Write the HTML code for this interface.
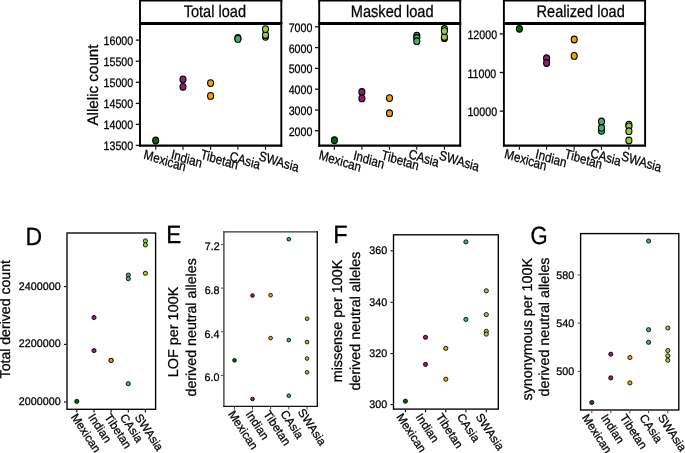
<!DOCTYPE html>
<html><head><meta charset="utf-8"><style>
html,body{margin:0;padding:0;background:#fff;}
svg{display:block;font-family:"Liberation Sans", sans-serif;will-change:transform;}
text{text-rendering:geometricPrecision;}
</style></head><body>
<svg width="685" height="453" viewBox="0 0 685 453">
<rect width="685" height="453" fill="#fff"/>
<rect x="140.0" y="0.4" width="141.30" height="23.00" fill="#fff" stroke="none"/>
<line x1="139.00" y1="0.40" x2="282.30" y2="0.40" stroke="#000" stroke-width="2.2"/>
<line x1="139.00" y1="23.40" x2="282.30" y2="23.40" stroke="#000" stroke-width="3.0"/>
<line x1="139.00" y1="145.60" x2="282.30" y2="145.60" stroke="#000" stroke-width="2.2"/>
<line x1="140.00" y1="-0.60" x2="140.00" y2="146.60" stroke="#000" stroke-width="1.9"/>
<line x1="281.30" y1="-0.60" x2="281.30" y2="146.60" stroke="#000" stroke-width="1.9"/>
<text transform="translate(183.67,16.95) scale(0.8684,1)" font-size="16.8" text-anchor="start" fill="#000" stroke="#000" stroke-width="0.26">Total load</text>
<line x1="135.80" y1="40.10" x2="139.10" y2="40.10" stroke="#111" stroke-width="1.3"/>
<text transform="translate(103.53,45.10) scale(0.8750,1)" font-size="12.2" text-anchor="start" fill="#000" stroke="#000" stroke-width="0.26">16000</text>
<line x1="135.80" y1="61.20" x2="139.10" y2="61.20" stroke="#111" stroke-width="1.3"/>
<text transform="translate(103.53,66.20) scale(0.8750,1)" font-size="12.2" text-anchor="start" fill="#000" stroke="#000" stroke-width="0.26">15500</text>
<line x1="135.80" y1="82.30" x2="139.10" y2="82.30" stroke="#111" stroke-width="1.3"/>
<text transform="translate(103.53,87.30) scale(0.8750,1)" font-size="12.2" text-anchor="start" fill="#000" stroke="#000" stroke-width="0.26">15000</text>
<line x1="135.80" y1="103.40" x2="139.10" y2="103.40" stroke="#111" stroke-width="1.3"/>
<text transform="translate(103.53,108.40) scale(0.8750,1)" font-size="12.2" text-anchor="start" fill="#000" stroke="#000" stroke-width="0.26">14500</text>
<line x1="135.80" y1="124.40" x2="139.10" y2="124.40" stroke="#111" stroke-width="1.3"/>
<text transform="translate(103.53,129.40) scale(0.8750,1)" font-size="12.2" text-anchor="start" fill="#000" stroke="#000" stroke-width="0.26">14000</text>
<line x1="135.80" y1="145.40" x2="139.10" y2="145.40" stroke="#111" stroke-width="1.3"/>
<text transform="translate(103.53,150.40) scale(0.8750,1)" font-size="12.2" text-anchor="start" fill="#000" stroke="#000" stroke-width="0.26">13500</text>
<line x1="155.70" y1="146.60" x2="155.70" y2="149.80" stroke="#111" stroke-width="1.15"/>
<line x1="183.00" y1="146.60" x2="183.00" y2="149.80" stroke="#111" stroke-width="1.15"/>
<line x1="210.60" y1="146.60" x2="210.60" y2="149.80" stroke="#111" stroke-width="1.15"/>
<line x1="237.90" y1="146.60" x2="237.90" y2="149.80" stroke="#111" stroke-width="1.15"/>
<line x1="265.50" y1="146.60" x2="265.50" y2="149.80" stroke="#111" stroke-width="1.15"/>
<ellipse cx="155.70" cy="140.50" rx="3.0" ry="3.35" fill="#006400" stroke="#000" stroke-width="1.1"/>
<ellipse cx="183.00" cy="79.40" rx="3.0" ry="3.35" fill="#8E1F6E" stroke="#000" stroke-width="1.1"/>
<ellipse cx="183.00" cy="86.80" rx="3.0" ry="3.35" fill="#8E1F6E" stroke="#000" stroke-width="1.1"/>
<ellipse cx="210.60" cy="83.10" rx="3.0" ry="3.35" fill="#F2A000" stroke="#000" stroke-width="1.1"/>
<ellipse cx="210.60" cy="95.90" rx="3.0" ry="3.35" fill="#F2A000" stroke="#000" stroke-width="1.1"/>
<ellipse cx="237.90" cy="37.90" rx="3.0" ry="3.35" fill="#3CB371" stroke="#000" stroke-width="1.1"/>
<ellipse cx="237.90" cy="38.90" rx="3.0" ry="3.35" fill="#3CB371" stroke="#000" stroke-width="1.1"/>
<ellipse cx="265.50" cy="36.80" rx="3.0" ry="3.35" fill="#9ACD32" stroke="#000" stroke-width="1.1"/>
<ellipse cx="265.50" cy="35.00" rx="3.0" ry="3.35" fill="#9ACD32" stroke="#000" stroke-width="1.1"/>
<ellipse cx="265.50" cy="29.10" rx="3.0" ry="3.35" fill="#9ACD32" stroke="#000" stroke-width="1.1"/>
<text transform="translate(143.10,158.60) scale(0.853,1) rotate(14.75) scale(1.0,1)" font-size="13.6" text-anchor="start" fill="#000" stroke="#000" stroke-width="0.26">Mexican</text>
<text transform="translate(170.45,158.50) scale(0.853,1) rotate(14.75) scale(1.0,1)" font-size="13.6" text-anchor="start" fill="#000" stroke="#000" stroke-width="0.26">Indian</text>
<text transform="translate(199.90,158.30) scale(0.853,1) rotate(14.75) scale(1.0,1)" font-size="13.6" text-anchor="start" fill="#000" stroke="#000" stroke-width="0.26">Tibetan</text>
<text transform="translate(229.00,160.30) scale(0.853,1) rotate(14.75) scale(1.0,1)" font-size="13.6" text-anchor="start" fill="#000" stroke="#000" stroke-width="0.26">CAsia</text>
<text transform="translate(258.20,160.00) scale(0.853,1) rotate(14.75) scale(1.0,1)" font-size="13.6" text-anchor="start" fill="#000" stroke="#000" stroke-width="0.26">SWAsia</text>
<rect x="319.2" y="0.4" width="141.00" height="23.00" fill="#fff" stroke="none"/>
<line x1="318.20" y1="0.40" x2="461.20" y2="0.40" stroke="#000" stroke-width="2.2"/>
<line x1="318.20" y1="23.40" x2="461.20" y2="23.40" stroke="#000" stroke-width="3.0"/>
<line x1="318.20" y1="145.60" x2="461.20" y2="145.60" stroke="#000" stroke-width="2.2"/>
<line x1="319.20" y1="-0.60" x2="319.20" y2="146.60" stroke="#000" stroke-width="1.9"/>
<line x1="460.20" y1="-0.60" x2="460.20" y2="146.60" stroke="#000" stroke-width="1.9"/>
<text transform="translate(350.80,16.95) scale(0.8697,1)" font-size="16.8" text-anchor="start" fill="#000" stroke="#000" stroke-width="0.26">Masked load</text>
<line x1="315.00" y1="26.80" x2="318.30" y2="26.80" stroke="#111" stroke-width="1.3"/>
<text transform="translate(288.67,31.80) scale(0.8750,1)" font-size="12.2" text-anchor="start" fill="#000" stroke="#000" stroke-width="0.26">7000</text>
<line x1="315.00" y1="47.60" x2="318.30" y2="47.60" stroke="#111" stroke-width="1.3"/>
<text transform="translate(288.67,52.60) scale(0.8750,1)" font-size="12.2" text-anchor="start" fill="#000" stroke="#000" stroke-width="0.26">6000</text>
<line x1="315.00" y1="68.40" x2="318.30" y2="68.40" stroke="#111" stroke-width="1.3"/>
<text transform="translate(288.67,73.40) scale(0.8750,1)" font-size="12.2" text-anchor="start" fill="#000" stroke="#000" stroke-width="0.26">5000</text>
<line x1="315.00" y1="89.20" x2="318.30" y2="89.20" stroke="#111" stroke-width="1.3"/>
<text transform="translate(288.67,94.20) scale(0.8750,1)" font-size="12.2" text-anchor="start" fill="#000" stroke="#000" stroke-width="0.26">4000</text>
<line x1="315.00" y1="110.00" x2="318.30" y2="110.00" stroke="#111" stroke-width="1.3"/>
<text transform="translate(288.67,115.00) scale(0.8750,1)" font-size="12.2" text-anchor="start" fill="#000" stroke="#000" stroke-width="0.26">3000</text>
<line x1="315.00" y1="130.70" x2="318.30" y2="130.70" stroke="#111" stroke-width="1.3"/>
<text transform="translate(288.67,135.70) scale(0.8750,1)" font-size="12.2" text-anchor="start" fill="#000" stroke="#000" stroke-width="0.26">2000</text>
<line x1="334.40" y1="146.60" x2="334.40" y2="149.80" stroke="#111" stroke-width="1.15"/>
<line x1="361.90" y1="146.60" x2="361.90" y2="149.80" stroke="#111" stroke-width="1.15"/>
<line x1="389.50" y1="146.60" x2="389.50" y2="149.80" stroke="#111" stroke-width="1.15"/>
<line x1="416.80" y1="146.60" x2="416.80" y2="149.80" stroke="#111" stroke-width="1.15"/>
<line x1="444.40" y1="146.60" x2="444.40" y2="149.80" stroke="#111" stroke-width="1.15"/>
<ellipse cx="334.40" cy="140.20" rx="3.0" ry="3.35" fill="#006400" stroke="#000" stroke-width="1.1"/>
<ellipse cx="361.90" cy="92.00" rx="3.0" ry="3.35" fill="#8E1F6E" stroke="#000" stroke-width="1.1"/>
<ellipse cx="361.90" cy="98.40" rx="3.0" ry="3.35" fill="#8E1F6E" stroke="#000" stroke-width="1.1"/>
<ellipse cx="389.50" cy="98.10" rx="3.0" ry="3.35" fill="#F2A000" stroke="#000" stroke-width="1.1"/>
<ellipse cx="389.50" cy="113.20" rx="3.0" ry="3.35" fill="#F2A000" stroke="#000" stroke-width="1.1"/>
<ellipse cx="416.80" cy="35.70" rx="3.0" ry="3.35" fill="#3CB371" stroke="#000" stroke-width="1.1"/>
<ellipse cx="416.80" cy="38.00" rx="3.0" ry="3.35" fill="#3CB371" stroke="#000" stroke-width="1.1"/>
<ellipse cx="416.80" cy="41.20" rx="3.0" ry="3.35" fill="#3CB371" stroke="#000" stroke-width="1.1"/>
<ellipse cx="444.40" cy="38.20" rx="3.0" ry="3.35" fill="#9ACD32" stroke="#000" stroke-width="1.1"/>
<ellipse cx="444.40" cy="29.00" rx="3.0" ry="3.35" fill="#9ACD32" stroke="#000" stroke-width="1.1"/>
<ellipse cx="444.40" cy="37.00" rx="3.0" ry="3.35" fill="#9ACD32" stroke="#000" stroke-width="1.1"/>
<ellipse cx="444.40" cy="31.10" rx="3.0" ry="3.35" fill="#9ACD32" stroke="#000" stroke-width="1.1"/>
<text transform="translate(318.20,159.00) scale(0.853,1) rotate(14.75) scale(1.0,1)" font-size="13.6" text-anchor="start" fill="#000" stroke="#000" stroke-width="0.26">Mexican</text>
<text transform="translate(352.65,159.40) scale(0.853,1) rotate(14.75) scale(1.0,1)" font-size="13.6" text-anchor="start" fill="#000" stroke="#000" stroke-width="0.26">Indian</text>
<text transform="translate(380.80,159.00) scale(0.853,1) rotate(14.75) scale(1.0,1)" font-size="13.6" text-anchor="start" fill="#000" stroke="#000" stroke-width="0.26">Tibetan</text>
<text transform="translate(407.90,157.90) scale(0.853,1) rotate(14.75) scale(1.0,1)" font-size="13.6" text-anchor="start" fill="#000" stroke="#000" stroke-width="0.26">CAsia</text>
<text transform="translate(438.60,159.30) scale(0.853,1) rotate(14.75) scale(1.0,1)" font-size="13.6" text-anchor="start" fill="#000" stroke="#000" stroke-width="0.26">SWAsia</text>
<rect x="503.9" y="0.4" width="141.20" height="23.00" fill="#fff" stroke="none"/>
<line x1="502.90" y1="0.40" x2="646.10" y2="0.40" stroke="#000" stroke-width="2.2"/>
<line x1="502.90" y1="23.40" x2="646.10" y2="23.40" stroke="#000" stroke-width="3.0"/>
<line x1="502.90" y1="145.60" x2="646.10" y2="145.60" stroke="#000" stroke-width="2.2"/>
<line x1="503.90" y1="-0.60" x2="503.90" y2="146.60" stroke="#000" stroke-width="1.9"/>
<line x1="645.10" y1="-0.60" x2="645.10" y2="146.60" stroke="#000" stroke-width="1.9"/>
<text transform="translate(536.61,16.95) scale(0.8667,1)" font-size="16.8" text-anchor="start" fill="#000" stroke="#000" stroke-width="0.26">Realized load</text>
<line x1="499.70" y1="33.90" x2="503.00" y2="33.90" stroke="#111" stroke-width="1.3"/>
<text transform="translate(467.43,38.90) scale(0.8750,1)" font-size="12.2" text-anchor="start" fill="#000" stroke="#000" stroke-width="0.26">12000</text>
<line x1="499.70" y1="72.50" x2="503.00" y2="72.50" stroke="#111" stroke-width="1.3"/>
<text transform="translate(467.43,77.50) scale(0.8750,1)" font-size="12.2" text-anchor="start" fill="#000" stroke="#000" stroke-width="0.26">11000</text>
<line x1="499.70" y1="111.10" x2="503.00" y2="111.10" stroke="#111" stroke-width="1.3"/>
<text transform="translate(467.43,116.10) scale(0.8750,1)" font-size="12.2" text-anchor="start" fill="#000" stroke="#000" stroke-width="0.26">10000</text>
<line x1="519.40" y1="146.60" x2="519.40" y2="149.80" stroke="#111" stroke-width="1.15"/>
<line x1="546.60" y1="146.60" x2="546.60" y2="149.80" stroke="#111" stroke-width="1.15"/>
<line x1="574.20" y1="146.60" x2="574.20" y2="149.80" stroke="#111" stroke-width="1.15"/>
<line x1="601.50" y1="146.60" x2="601.50" y2="149.80" stroke="#111" stroke-width="1.15"/>
<line x1="628.90" y1="146.60" x2="628.90" y2="149.80" stroke="#111" stroke-width="1.15"/>
<ellipse cx="519.40" cy="28.80" rx="3.0" ry="3.35" fill="#006400" stroke="#000" stroke-width="1.1"/>
<ellipse cx="546.60" cy="58.20" rx="3.0" ry="3.35" fill="#8E1F6E" stroke="#000" stroke-width="1.1"/>
<ellipse cx="546.60" cy="63.00" rx="3.0" ry="3.35" fill="#8E1F6E" stroke="#000" stroke-width="1.1"/>
<ellipse cx="574.20" cy="39.50" rx="3.0" ry="3.35" fill="#F2A000" stroke="#000" stroke-width="1.1"/>
<ellipse cx="574.20" cy="55.90" rx="3.0" ry="3.35" fill="#F2A000" stroke="#000" stroke-width="1.1"/>
<ellipse cx="601.50" cy="130.80" rx="3.0" ry="3.35" fill="#3CB371" stroke="#000" stroke-width="1.1"/>
<ellipse cx="601.50" cy="127.70" rx="3.0" ry="3.35" fill="#3CB371" stroke="#000" stroke-width="1.1"/>
<ellipse cx="601.50" cy="121.50" rx="3.0" ry="3.35" fill="#3CB371" stroke="#000" stroke-width="1.1"/>
<ellipse cx="628.90" cy="124.60" rx="3.0" ry="3.35" fill="#9ACD32" stroke="#000" stroke-width="1.1"/>
<ellipse cx="628.90" cy="126.30" rx="3.0" ry="3.35" fill="#9ACD32" stroke="#000" stroke-width="1.1"/>
<ellipse cx="628.90" cy="131.20" rx="3.0" ry="3.35" fill="#9ACD32" stroke="#000" stroke-width="1.1"/>
<ellipse cx="628.90" cy="140.50" rx="3.0" ry="3.35" fill="#9ACD32" stroke="#000" stroke-width="1.1"/>
<text transform="translate(503.80,157.80) scale(0.853,1) rotate(14.75) scale(1.0,1)" font-size="13.6" text-anchor="start" fill="#000" stroke="#000" stroke-width="0.26">Mexican</text>
<text transform="translate(534.85,158.10) scale(0.853,1) rotate(14.75) scale(1.0,1)" font-size="13.6" text-anchor="start" fill="#000" stroke="#000" stroke-width="0.26">Indian</text>
<text transform="translate(564.00,157.80) scale(0.853,1) rotate(14.75) scale(1.0,1)" font-size="13.6" text-anchor="start" fill="#000" stroke="#000" stroke-width="0.26">Tibetan</text>
<text transform="translate(589.80,157.00) scale(0.853,1) rotate(14.75) scale(1.0,1)" font-size="13.6" text-anchor="start" fill="#000" stroke="#000" stroke-width="0.26">CAsia</text>
<text transform="translate(620.80,160.10) scale(0.853,1) rotate(14.75) scale(1.0,1)" font-size="13.6" text-anchor="start" fill="#000" stroke="#000" stroke-width="0.26">SWAsia</text>
<text transform="translate(97.70,125.53) rotate(-90) scale(1.0004,1)" font-size="15.2" text-anchor="start" fill="#000" stroke="#000" stroke-width="0.26">Allelic count</text>
<rect x="67.0" y="233.0" width="88.60" height="176.30" fill="none" stroke="#000" stroke-width="1.35"/>
<text transform="translate(25.42,245.20) scale(0.9185,1)" font-size="25" text-anchor="start" fill="#000" stroke="#000" stroke-width="0.26">D</text>
<line x1="64.00" y1="286.60" x2="66.40" y2="286.60" stroke="#000" stroke-width="1.1"/>
<text transform="translate(18.87,289.60) scale(0.9750,1)" font-size="11.0" text-anchor="start" fill="#000" stroke="#000" stroke-width="0.26">2400000</text>
<line x1="64.00" y1="344.40" x2="66.40" y2="344.40" stroke="#000" stroke-width="1.1"/>
<text transform="translate(18.87,347.40) scale(0.9750,1)" font-size="11.0" text-anchor="start" fill="#000" stroke="#000" stroke-width="0.26">2200000</text>
<line x1="64.00" y1="402.00" x2="66.40" y2="402.00" stroke="#000" stroke-width="1.1"/>
<text transform="translate(18.87,405.00) scale(0.9750,1)" font-size="11.0" text-anchor="start" fill="#000" stroke="#000" stroke-width="0.26">2000000</text>
<line x1="76.80" y1="409.90" x2="76.80" y2="412.50" stroke="#000" stroke-width="1.1"/>
<line x1="94.00" y1="409.90" x2="94.00" y2="412.50" stroke="#000" stroke-width="1.1"/>
<line x1="111.10" y1="409.90" x2="111.10" y2="412.50" stroke="#000" stroke-width="1.1"/>
<line x1="128.30" y1="409.90" x2="128.30" y2="412.50" stroke="#000" stroke-width="1.1"/>
<line x1="145.40" y1="409.90" x2="145.40" y2="412.50" stroke="#000" stroke-width="1.1"/>
<ellipse cx="76.80" cy="401.40" rx="2.1" ry="2.1" fill="#006400" stroke="#000" stroke-width="0.85"/>
<ellipse cx="94.00" cy="317.50" rx="2.1" ry="2.1" fill="#8E1F6E" stroke="#000" stroke-width="0.85"/>
<ellipse cx="94.00" cy="350.60" rx="2.1" ry="2.1" fill="#8E1F6E" stroke="#000" stroke-width="0.85"/>
<ellipse cx="111.10" cy="360.40" rx="2.1" ry="2.1" fill="#F2A000" stroke="#000" stroke-width="0.85"/>
<ellipse cx="111.10" cy="360.40" rx="2.1" ry="2.1" fill="#F2A000" stroke="#000" stroke-width="0.85"/>
<ellipse cx="128.30" cy="275.10" rx="2.1" ry="2.1" fill="#3CB371" stroke="#000" stroke-width="0.85"/>
<ellipse cx="128.30" cy="278.70" rx="2.1" ry="2.1" fill="#3CB371" stroke="#000" stroke-width="0.85"/>
<ellipse cx="128.30" cy="383.70" rx="2.1" ry="2.1" fill="#3CB371" stroke="#000" stroke-width="0.85"/>
<ellipse cx="145.40" cy="240.90" rx="2.1" ry="2.1" fill="#9ACD32" stroke="#000" stroke-width="0.85"/>
<ellipse cx="145.40" cy="244.90" rx="2.1" ry="2.1" fill="#9ACD32" stroke="#000" stroke-width="0.85"/>
<ellipse cx="145.40" cy="273.30" rx="2.1" ry="2.1" fill="#9ACD32" stroke="#000" stroke-width="0.85"/>
<text transform="translate(70.50,416.90) scale(1.0,1) rotate(56.5) scale(1.0,1)" font-size="11.8" text-anchor="start" fill="#000" stroke="#000" stroke-width="0.26">Mexican</text>
<text transform="translate(87.70,416.90) scale(1.0,1) rotate(56.5) scale(1.0,1)" font-size="11.8" text-anchor="start" fill="#000" stroke="#000" stroke-width="0.26">Indian</text>
<text transform="translate(104.00,416.90) scale(1.0,1) rotate(56.5) scale(1.0,1)" font-size="11.8" text-anchor="start" fill="#000" stroke="#000" stroke-width="0.26">Tibetan</text>
<text transform="translate(119.60,417.20) scale(1.0,1) rotate(56.5) scale(1.0,1)" font-size="11.8" text-anchor="start" fill="#000" stroke="#000" stroke-width="0.26">CAsia</text>
<text transform="translate(134.30,417.20) scale(1.0,1) rotate(56.5) scale(1.0,1)" font-size="11.8" text-anchor="start" fill="#000" stroke="#000" stroke-width="0.26">SWAsia</text>
<text transform="translate(9.90,378.42) rotate(-90) scale(0.9860,1)" font-size="14.3" text-anchor="start" fill="#000" stroke="#000" stroke-width="0.26">Total derived count</text>
<line x1="223.30" y1="231.90" x2="317.90" y2="231.90" stroke="#333" stroke-width="1.3"/>
<line x1="223.90" y1="231.30" x2="223.90" y2="406.90" stroke="#333" stroke-width="1.3"/>
<line x1="317.30" y1="231.30" x2="317.30" y2="406.90" stroke="#111" stroke-width="1.35"/>
<line x1="223.30" y1="406.30" x2="317.90" y2="406.30" stroke="#111" stroke-width="1.35"/>
<text transform="translate(166.25,242.70) scale(0.9004,1)" font-size="25" text-anchor="start" fill="#000" stroke="#000" stroke-width="0.26">E</text>
<line x1="220.90" y1="244.40" x2="223.30" y2="244.40" stroke="#333" stroke-width="0.9"/>
<text transform="translate(204.73,250.40) scale(0.9750,1)" font-size="11.0" text-anchor="start" fill="#000" stroke="#000" stroke-width="0.26">7.2</text>
<line x1="220.90" y1="288.10" x2="223.30" y2="288.10" stroke="#333" stroke-width="0.9"/>
<text transform="translate(204.66,294.10) scale(0.9750,1)" font-size="11.0" text-anchor="start" fill="#000" stroke="#000" stroke-width="0.26">6.8</text>
<line x1="220.90" y1="331.70" x2="223.30" y2="331.70" stroke="#333" stroke-width="0.9"/>
<text transform="translate(204.50,337.70) scale(0.9750,1)" font-size="11.0" text-anchor="start" fill="#000" stroke="#000" stroke-width="0.26">6.4</text>
<line x1="220.90" y1="375.40" x2="223.30" y2="375.40" stroke="#333" stroke-width="0.9"/>
<text transform="translate(204.61,381.40) scale(0.9750,1)" font-size="11.0" text-anchor="start" fill="#000" stroke="#000" stroke-width="0.26">6.0</text>
<line x1="234.50" y1="406.90" x2="234.50" y2="409.50" stroke="#333" stroke-width="0.9"/>
<line x1="252.50" y1="406.90" x2="252.50" y2="409.50" stroke="#333" stroke-width="0.9"/>
<line x1="270.60" y1="406.90" x2="270.60" y2="409.50" stroke="#333" stroke-width="0.9"/>
<line x1="288.80" y1="406.90" x2="288.80" y2="409.50" stroke="#333" stroke-width="0.9"/>
<line x1="307.10" y1="406.90" x2="307.10" y2="409.50" stroke="#333" stroke-width="0.9"/>
<ellipse cx="234.50" cy="360.30" rx="1.85" ry="1.85" fill="#006400" stroke="#000" stroke-width="0.85"/>
<ellipse cx="252.50" cy="295.50" rx="1.85" ry="1.85" fill="#8E1F6E" stroke="#000" stroke-width="0.85"/>
<ellipse cx="252.50" cy="399.00" rx="1.85" ry="1.85" fill="#8E1F6E" stroke="#000" stroke-width="0.85"/>
<ellipse cx="270.60" cy="295.20" rx="1.85" ry="1.85" fill="#F2A000" stroke="#000" stroke-width="0.85"/>
<ellipse cx="270.60" cy="338.10" rx="1.85" ry="1.85" fill="#F2A000" stroke="#000" stroke-width="0.85"/>
<ellipse cx="288.80" cy="239.20" rx="1.85" ry="1.85" fill="#3CB371" stroke="#000" stroke-width="0.85"/>
<ellipse cx="288.80" cy="340.10" rx="1.85" ry="1.85" fill="#3CB371" stroke="#000" stroke-width="0.85"/>
<ellipse cx="288.80" cy="395.70" rx="1.85" ry="1.85" fill="#3CB371" stroke="#000" stroke-width="0.85"/>
<ellipse cx="307.10" cy="318.70" rx="1.85" ry="1.85" fill="#9ACD32" stroke="#000" stroke-width="0.85"/>
<ellipse cx="307.10" cy="342.10" rx="1.85" ry="1.85" fill="#9ACD32" stroke="#000" stroke-width="0.85"/>
<ellipse cx="307.10" cy="358.50" rx="1.85" ry="1.85" fill="#9ACD32" stroke="#000" stroke-width="0.85"/>
<ellipse cx="307.10" cy="372.30" rx="1.85" ry="1.85" fill="#9ACD32" stroke="#000" stroke-width="0.85"/>
<text transform="translate(227.70,413.90) scale(1.0,1) rotate(56.5) scale(1.0,1)" font-size="11.8" text-anchor="start" fill="#000" stroke="#000" stroke-width="0.26">Mexican</text>
<text transform="translate(245.20,413.90) scale(1.0,1) rotate(56.5) scale(1.0,1)" font-size="11.8" text-anchor="start" fill="#000" stroke="#000" stroke-width="0.26">Indian</text>
<text transform="translate(263.10,413.90) scale(1.0,1) rotate(56.5) scale(1.0,1)" font-size="11.8" text-anchor="start" fill="#000" stroke="#000" stroke-width="0.26">Tibetan</text>
<text transform="translate(280.10,413.40) scale(1.0,1) rotate(56.5) scale(1.0,1)" font-size="11.8" text-anchor="start" fill="#000" stroke="#000" stroke-width="0.26">CAsia</text>
<text transform="translate(297.30,411.90) scale(1.0,1) rotate(56.5) scale(1.0,1)" font-size="11.8" text-anchor="start" fill="#000" stroke="#000" stroke-width="0.26">SWAsia</text>
<text transform="translate(177.90,377.18) rotate(-90) scale(1.0069,1)" font-size="14.3" text-anchor="start" fill="#000" stroke="#000" stroke-width="0.26">LOF per 100K</text>
<text transform="translate(195.60,396.50) rotate(-90) scale(0.9942,1)" font-size="14.3" text-anchor="start" fill="#000" stroke="#000" stroke-width="0.26">derived neutral alleles</text>
<rect x="393.5" y="234.8" width="104.80" height="174.30" fill="none" stroke="#000" stroke-width="1.35"/>
<text transform="translate(333.37,243.20) scale(0.9411,1)" font-size="25" text-anchor="start" fill="#000" stroke="#000" stroke-width="0.26">F</text>
<line x1="390.50" y1="250.80" x2="392.90" y2="250.80" stroke="#000" stroke-width="1.1"/>
<text transform="translate(369.22,254.30) scale(0.9750,1)" font-size="11.0" text-anchor="start" fill="#000" stroke="#000" stroke-width="0.26">360</text>
<line x1="390.50" y1="302.30" x2="392.90" y2="302.30" stroke="#000" stroke-width="1.1"/>
<text transform="translate(369.22,305.80) scale(0.9750,1)" font-size="11.0" text-anchor="start" fill="#000" stroke="#000" stroke-width="0.26">340</text>
<line x1="390.50" y1="353.60" x2="392.90" y2="353.60" stroke="#000" stroke-width="1.1"/>
<text transform="translate(369.22,357.10) scale(0.9750,1)" font-size="11.0" text-anchor="start" fill="#000" stroke="#000" stroke-width="0.26">320</text>
<line x1="390.50" y1="404.60" x2="392.90" y2="404.60" stroke="#000" stroke-width="1.1"/>
<text transform="translate(369.22,408.10) scale(0.9750,1)" font-size="11.0" text-anchor="start" fill="#000" stroke="#000" stroke-width="0.26">300</text>
<line x1="405.40" y1="409.70" x2="405.40" y2="412.30" stroke="#000" stroke-width="1.1"/>
<line x1="425.50" y1="409.70" x2="425.50" y2="412.30" stroke="#000" stroke-width="1.1"/>
<line x1="445.80" y1="409.70" x2="445.80" y2="412.30" stroke="#000" stroke-width="1.1"/>
<line x1="465.90" y1="409.70" x2="465.90" y2="412.30" stroke="#000" stroke-width="1.1"/>
<line x1="486.30" y1="409.70" x2="486.30" y2="412.30" stroke="#000" stroke-width="1.1"/>
<ellipse cx="405.40" cy="401.20" rx="2.1" ry="2.1" fill="#006400" stroke="#000" stroke-width="0.85"/>
<ellipse cx="425.50" cy="337.30" rx="2.1" ry="2.1" fill="#8E1F6E" stroke="#000" stroke-width="0.85"/>
<ellipse cx="425.50" cy="364.40" rx="2.1" ry="2.1" fill="#8E1F6E" stroke="#000" stroke-width="0.85"/>
<ellipse cx="445.80" cy="348.40" rx="2.1" ry="2.1" fill="#F2A000" stroke="#000" stroke-width="0.85"/>
<ellipse cx="445.80" cy="379.20" rx="2.1" ry="2.1" fill="#F2A000" stroke="#000" stroke-width="0.85"/>
<ellipse cx="465.90" cy="241.90" rx="2.1" ry="2.1" fill="#3CB371" stroke="#000" stroke-width="0.85"/>
<ellipse cx="465.90" cy="319.40" rx="2.1" ry="2.1" fill="#3CB371" stroke="#000" stroke-width="0.85"/>
<ellipse cx="486.30" cy="290.80" rx="2.1" ry="2.1" fill="#9ACD32" stroke="#000" stroke-width="0.85"/>
<ellipse cx="486.30" cy="314.60" rx="2.1" ry="2.1" fill="#9ACD32" stroke="#000" stroke-width="0.85"/>
<ellipse cx="486.30" cy="331.30" rx="2.1" ry="2.1" fill="#9ACD32" stroke="#000" stroke-width="0.85"/>
<ellipse cx="486.30" cy="334.10" rx="2.1" ry="2.1" fill="#9ACD32" stroke="#000" stroke-width="0.85"/>
<text transform="translate(395.90,416.70) scale(1.0,1) rotate(56.5) scale(1.0,1)" font-size="11.8" text-anchor="start" fill="#000" stroke="#000" stroke-width="0.26">Mexican</text>
<text transform="translate(415.20,416.70) scale(1.0,1) rotate(56.5) scale(1.0,1)" font-size="11.8" text-anchor="start" fill="#000" stroke="#000" stroke-width="0.26">Indian</text>
<text transform="translate(435.50,416.70) scale(1.0,1) rotate(56.5) scale(1.0,1)" font-size="11.8" text-anchor="start" fill="#000" stroke="#000" stroke-width="0.26">Tibetan</text>
<text transform="translate(456.40,416.70) scale(1.0,1) rotate(56.5) scale(1.0,1)" font-size="11.8" text-anchor="start" fill="#000" stroke="#000" stroke-width="0.26">CAsia</text>
<text transform="translate(475.20,416.70) scale(1.0,1) rotate(56.5) scale(1.0,1)" font-size="11.8" text-anchor="start" fill="#000" stroke="#000" stroke-width="0.26">SWAsia</text>
<text transform="translate(342.40,382.25) rotate(-90) scale(1.0008,1)" font-size="14.3" text-anchor="start" fill="#000" stroke="#000" stroke-width="0.26">missense per 100K</text>
<text transform="translate(360.40,390.60) rotate(-90) scale(0.9993,1)" font-size="14.3" text-anchor="start" fill="#000" stroke="#000" stroke-width="0.26">derived neutral alleles</text>
<rect x="580.6" y="233.6" width="98.20" height="176.40" fill="none" stroke="#000" stroke-width="1.35"/>
<text transform="translate(530.39,243.60) scale(0.8823,1)" font-size="25" text-anchor="start" fill="#000" stroke="#000" stroke-width="0.26">G</text>
<line x1="577.60" y1="274.90" x2="580.00" y2="274.90" stroke="#555" stroke-width="1.1"/>
<text transform="translate(556.32,278.60) scale(0.9750,1)" font-size="11.0" text-anchor="start" fill="#000" stroke="#000" stroke-width="0.26">580</text>
<line x1="577.60" y1="323.10" x2="580.00" y2="323.10" stroke="#555" stroke-width="1.1"/>
<text transform="translate(556.32,326.80) scale(0.9750,1)" font-size="11.0" text-anchor="start" fill="#000" stroke="#000" stroke-width="0.26">540</text>
<line x1="577.60" y1="371.40" x2="580.00" y2="371.40" stroke="#555" stroke-width="1.1"/>
<text transform="translate(556.32,375.10) scale(0.9750,1)" font-size="11.0" text-anchor="start" fill="#000" stroke="#000" stroke-width="0.26">500</text>
<line x1="591.80" y1="410.60" x2="591.80" y2="413.20" stroke="#555" stroke-width="1.1"/>
<line x1="610.80" y1="410.60" x2="610.80" y2="413.20" stroke="#555" stroke-width="1.1"/>
<line x1="629.90" y1="410.60" x2="629.90" y2="413.20" stroke="#555" stroke-width="1.1"/>
<line x1="648.60" y1="410.60" x2="648.60" y2="413.20" stroke="#555" stroke-width="1.1"/>
<line x1="667.80" y1="410.60" x2="667.80" y2="413.20" stroke="#555" stroke-width="1.1"/>
<ellipse cx="591.80" cy="402.50" rx="2.1" ry="2.1" fill="#006400" stroke="#000" stroke-width="0.85"/>
<ellipse cx="610.80" cy="354.20" rx="2.1" ry="2.1" fill="#8E1F6E" stroke="#000" stroke-width="0.85"/>
<ellipse cx="610.80" cy="377.90" rx="2.1" ry="2.1" fill="#8E1F6E" stroke="#000" stroke-width="0.85"/>
<ellipse cx="629.90" cy="357.50" rx="2.1" ry="2.1" fill="#F2A000" stroke="#000" stroke-width="0.85"/>
<ellipse cx="629.90" cy="382.90" rx="2.1" ry="2.1" fill="#F2A000" stroke="#000" stroke-width="0.85"/>
<ellipse cx="648.60" cy="241.00" rx="2.1" ry="2.1" fill="#3CB371" stroke="#000" stroke-width="0.85"/>
<ellipse cx="648.60" cy="329.70" rx="2.1" ry="2.1" fill="#3CB371" stroke="#000" stroke-width="0.85"/>
<ellipse cx="648.60" cy="342.30" rx="2.1" ry="2.1" fill="#3CB371" stroke="#000" stroke-width="0.85"/>
<ellipse cx="667.80" cy="328.00" rx="2.1" ry="2.1" fill="#9ACD32" stroke="#000" stroke-width="0.85"/>
<ellipse cx="667.80" cy="350.50" rx="2.1" ry="2.1" fill="#9ACD32" stroke="#000" stroke-width="0.85"/>
<ellipse cx="667.80" cy="355.80" rx="2.1" ry="2.1" fill="#9ACD32" stroke="#000" stroke-width="0.85"/>
<ellipse cx="667.80" cy="360.30" rx="2.1" ry="2.1" fill="#9ACD32" stroke="#000" stroke-width="0.85"/>
<text transform="translate(581.50,417.60) scale(1.0,1) rotate(56.5) scale(1.0,1)" font-size="11.8" text-anchor="start" fill="#000" stroke="#000" stroke-width="0.26">Mexican</text>
<text transform="translate(600.50,417.60) scale(1.0,1) rotate(56.5) scale(1.0,1)" font-size="11.8" text-anchor="start" fill="#000" stroke="#000" stroke-width="0.26">Indian</text>
<text transform="translate(619.60,417.60) scale(1.0,1) rotate(56.5) scale(1.0,1)" font-size="11.8" text-anchor="start" fill="#000" stroke="#000" stroke-width="0.26">Tibetan</text>
<text transform="translate(639.10,417.60) scale(1.0,1) rotate(56.5) scale(1.0,1)" font-size="11.8" text-anchor="start" fill="#000" stroke="#000" stroke-width="0.26">CAsia</text>
<text transform="translate(657.50,417.60) scale(1.0,1) rotate(56.5) scale(1.0,1)" font-size="11.8" text-anchor="start" fill="#000" stroke="#000" stroke-width="0.26">SWAsia</text>
<text transform="translate(531.80,400.50) rotate(-90) scale(1.0012,1)" font-size="14.3" text-anchor="start" fill="#000" stroke="#000" stroke-width="0.26">synonymous per 100K</text>
<text transform="translate(549.10,396.50) rotate(-90) scale(0.9993,1)" font-size="14.3" text-anchor="start" fill="#000" stroke="#000" stroke-width="0.26">derived neutral alleles</text>
</svg>
</body></html>
